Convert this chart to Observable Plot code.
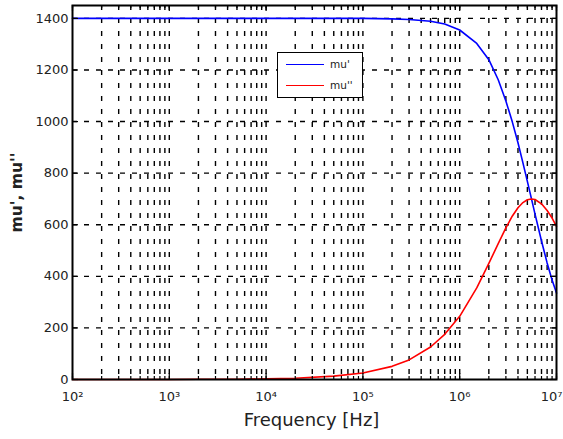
<!DOCTYPE html>
<html>
<head>
<meta charset="utf-8">
<script src="https://cdn.jsdelivr.net/npm/d3@7"></script>
<script src="https://cdn.jsdelivr.net/npm/@observablehq/plot@0.6"></script>
<style>
  body { margin: 0; background: #fff; }
  #wrap { position: relative; width: 563px; height: 439px; overflow: hidden; }
  #legend { position: absolute; left: 277px; top: 52px; width: 84px; height: 44px;
    border: 1.5px solid #000; background: #fff; font-family: "DejaVu Sans", sans-serif; font-size: 10.5px; color: #222; }
  .row { position: absolute; left: 8px; height: 12px; display: flex; align-items: center; }
  .sw { width: 38px; height: 0; border-top: 1.5px solid; margin-right: 6px; }
</style>
</head>
<body>
<div id="wrap"></div>
<script>
// ---- data ----
const freq   = [100, 200, 500, 1e3, 2e3, 5e3, 1e4, 2e4, 5e4, 1e5, 2e5, 3e5, 5e5, 7e5, 1e6, 1.5e6, 2e6, 2.5e6, 3e6, 3.5e6, 4e6, 4.5e6, 5e6, 5.5e6, 6e6, 7e6, 8e6, 9e6, 1e7];
const muReal = [1400, 1400, 1400, 1400, 1400, 1400, 1400, 1400, 1400, 1400, 1398, 1396, 1389, 1378, 1355, 1303, 1240, 1162, 1080, 998, 918, 840, 768, 702, 641, 537, 452, 386, 335];
const muImag = [0, 0, 0, 0, 1, 1, 3, 5, 13, 25, 51, 76, 126, 175, 245, 355, 450, 527, 588, 634, 666, 686, 697, 700, 698, 681, 655, 626, 594];
const yTicks = [0, 200, 400, 600, 800, 1000, 1200, 1400];
const xMajor = [1e2, 1e3, 1e4, 1e5, 1e6, 1e7];
const xMajorLabels = ["10²", "10³", "10⁴", "10⁵", "10⁶", "10⁷"];
const seriesNames = ["mu'", "mu''"];
const seriesColors = ["#0000ff", "#ff0000"];
const xLabel = "Frequency [Hz]";
const yLabel = "mu', mu''";

const W = 563, H = 439, mL = 72, mR = 7, mT = 5, mB = 60;
const innerW = W - mL - mR, innerH = H - mT - mB;
const rows = freq.map((f, i) => ({f, a: muReal[i], b: muImag[i]}));
const logTicks = d3.scaleLog().domain([100, 1e7]).ticks();
const gridX = logTicks.filter(d => d > 100 && d < 1e7);
const fmtX = d => xMajorLabels[xMajor.indexOf(d)];
const textCol = "#222";

const chart = Plot.plot({
  width: W, height: H,
  marginLeft: mL, marginRight: mR, marginTop: mT, marginBottom: mB,
  style: {fontFamily: "DejaVu Sans, sans-serif", fontSize: "13px", color: textCol, background: "#fff"},
  x: {type: "log", domain: [100, 1e7]},
  y: {domain: [0, 1450]},
  marks: [
    Plot.ruleX(gridX, {stroke: "#000", strokeWidth: 1.4, strokeDasharray: "5,8"}),
    Plot.ruleY(yTicks.slice(1), {stroke: "#000", strokeWidth: 1.4, strokeDasharray: "5,7"}),
    Plot.line(rows, {x: "f", y: "a", stroke: seriesColors[0], strokeWidth: 1.6}),
    Plot.line(rows, {x: "f", y: "b", stroke: seriesColors[1], strokeWidth: 1.6}),
    Plot.tickX(xMajor, {stroke: "#000", strokeWidth: 1.2, insetTop: innerH - 6}),
    Plot.tickX(xMajor, {stroke: "#000", strokeWidth: 1.2, insetBottom: innerH - 6}),
    Plot.tickX(logTicks, {stroke: "#000", strokeWidth: 1.2, insetTop: innerH - 3}),
    Plot.tickX(logTicks, {stroke: "#000", strokeWidth: 1.2, insetBottom: innerH - 3}),
    Plot.tickY(yTicks, {stroke: "#000", strokeWidth: 1.2, insetRight: innerW - 6}),
    Plot.tickY(yTicks, {stroke: "#000", strokeWidth: 1.2, insetLeft: innerW - 6}),
    Plot.axisX(xMajor.slice(0, -1), {tickSize: 0, tickPadding: 12, label: null, tickFormat: fmtX}),
    Plot.text(xMajor.slice(-1), {x: d => d, text: fmtX, frameAnchor: "bottom", textAnchor: "end", lineAnchor: "top", dy: 12, dx: 6, fontSize: 13, fill: textCol}),
    Plot.axisY(yTicks, {tickSize: 0, tickPadding: 4, label: null, tickFormat: d => String(d)}),
    Plot.frame({stroke: "#000", strokeWidth: 2}),
    Plot.text([xLabel], {frameAnchor: "bottom", textAnchor: "middle", lineAnchor: "top", dy: 34, dx: -3, fontSize: 18, fill: textCol}),
    Plot.text([yLabel], {frameAnchor: "left", textAnchor: "middle", lineAnchor: "middle", rotate: -90, dx: -55, fontSize: 15.5, fontWeight: "bold", fill: textCol})
  ]
});
const wrap = document.getElementById("wrap");
wrap.appendChild(chart);

const legend = document.createElement("div");
legend.id = "legend";
seriesNames.forEach((name, i) => {
  const row = document.createElement("div");
  row.className = "row";
  row.style.top = (i === 0 ? 5 : 26) + "px";
  const sw = document.createElement("div");
  sw.className = "sw";
  sw.style.borderTopColor = seriesColors[i];
  const lab = document.createElement("span");
  lab.textContent = name;
  row.appendChild(sw);
  row.appendChild(lab);
  legend.appendChild(row);
});
wrap.appendChild(legend);
</script>
</body>
</html>
